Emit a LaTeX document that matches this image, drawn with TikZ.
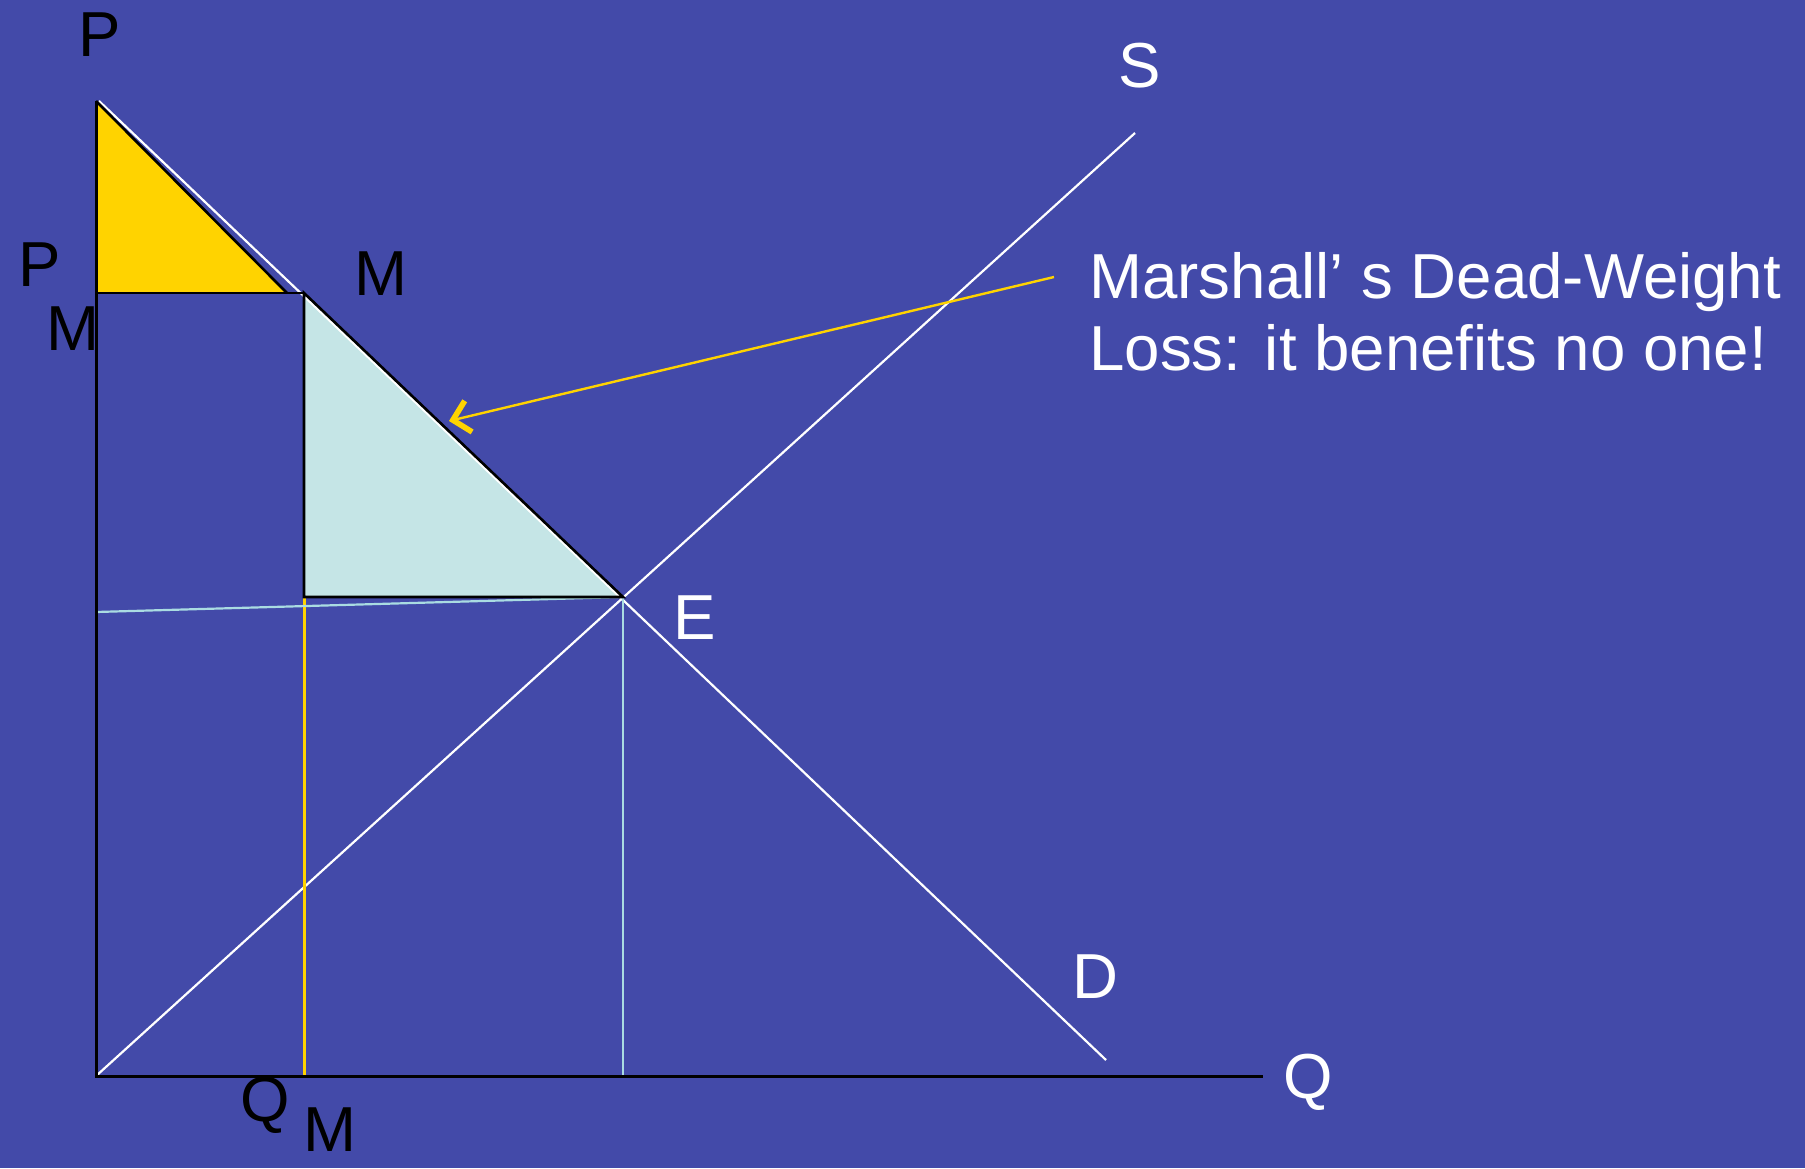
\documentclass[tikz,border=0pt]{standalone}
\usepackage{fontspec}
\setmainfont{Liberation Sans}
\usetikzlibrary{arrows.meta}
\definecolor{bg}{RGB}{67,74,169}
\definecolor{gold}{RGB}{255,211,0}
\definecolor{lblue}{RGB}{197,229,230}
\definecolor{lline}{RGB}{170,220,226}
\tikzset{
  lbl/.style={inner sep=0pt, font=\fontsize{31.8}{36}\selectfont},
  blk/.style={lbl, text=black},
  wht/.style={lbl, text=white},
  curve/.style={draw=white, line width=1.1pt},
  axis/.style={draw=black, line width=1.5pt},
  outline/.style={draw=black, line width=1.3pt, line join=miter}
}
\begin{document}
\begin{tikzpicture}[x=0.5pt,y=-0.5pt]
\fill[bg] (0,0) rectangle (1805,1168);
\useasboundingbox (0,0) rectangle (1805,1168);
% coordinates
\coordinate (O) at (96,1076);
\coordinate (Ptop) at (96,101);
\coordinate (Qend) at (1263,1076);
\coordinate (Dend) at (1103,1060);
\coordinate (Send) at (1135,133);
\coordinate (E) at (623,597);
\coordinate (PM) at (96,293);
\coordinate (Yc) at (287,293);
\coordinate (MT) at (304,293);
\coordinate (MB) at (304,597);
\coordinate (QM) at (304,1076);
\coordinate (QE) at (623,1076);
\coordinate (Lft) at (96,612);
\coordinate (Astart) at (1054,277);
\coordinate (Atip) at (449,421);
% shaded areas
\path[fill=gold] (Ptop) -- (PM) -- (Yc) -- cycle;
\path[fill=lblue] (MT) -- (MB) -- (E) -- cycle;
% curves
\draw[curve] (O) -- (Send);
\draw[curve] ([xshift=1.5]Ptop) -- ([xshift=1.5]Dend);
\draw[draw=gold, line width=1.5pt] (MB) -- (QM);
\draw[draw=lline, line width=1.1pt] (E) -- (QE);
\draw[draw=lline, line width=1.1pt] (Lft) -- (E);
% outlines
\draw[outline] (Ptop) -- (Yc);
\draw[outline] (PM) -- (MT);
\draw[outline] (MT) -- (MB) -- (E) -- cycle;
% axes
\draw[axis] (Ptop) -- (O) -- (Qend);
% arrow
\draw[draw=gold, line width=1.2pt, -{Straight Barb[length=8pt,width=16pt,line width=2.8pt]}] (Astart) -- (Atip);
% labels
\node[blk] (lP) at (100,35) {P};
\node[blk] (lPM1) at (40,265) {P};
\node[blk] (lPM2) at (73,329) {M};
\node[blk] (lM) at (381,274) {M};
\node[wht] (lS) at (1140,66) {S};
\node[wht] (lE) at (695,618) {E};
\node[wht] (lD) at (1095,977) {D};
\node[wht] (lQ) at (1308,1082) {Q};
\node[blk] (lQM1) at (265,1105) {Q};
\node[blk] (lQM2) at (330,1130) {M};
\node[wht, anchor=base west, align=left] (txt) at (1089,370) {Marshall’ s Dead-Weight\\Loss: it benefits no one!};
\end{tikzpicture}
\end{document}
